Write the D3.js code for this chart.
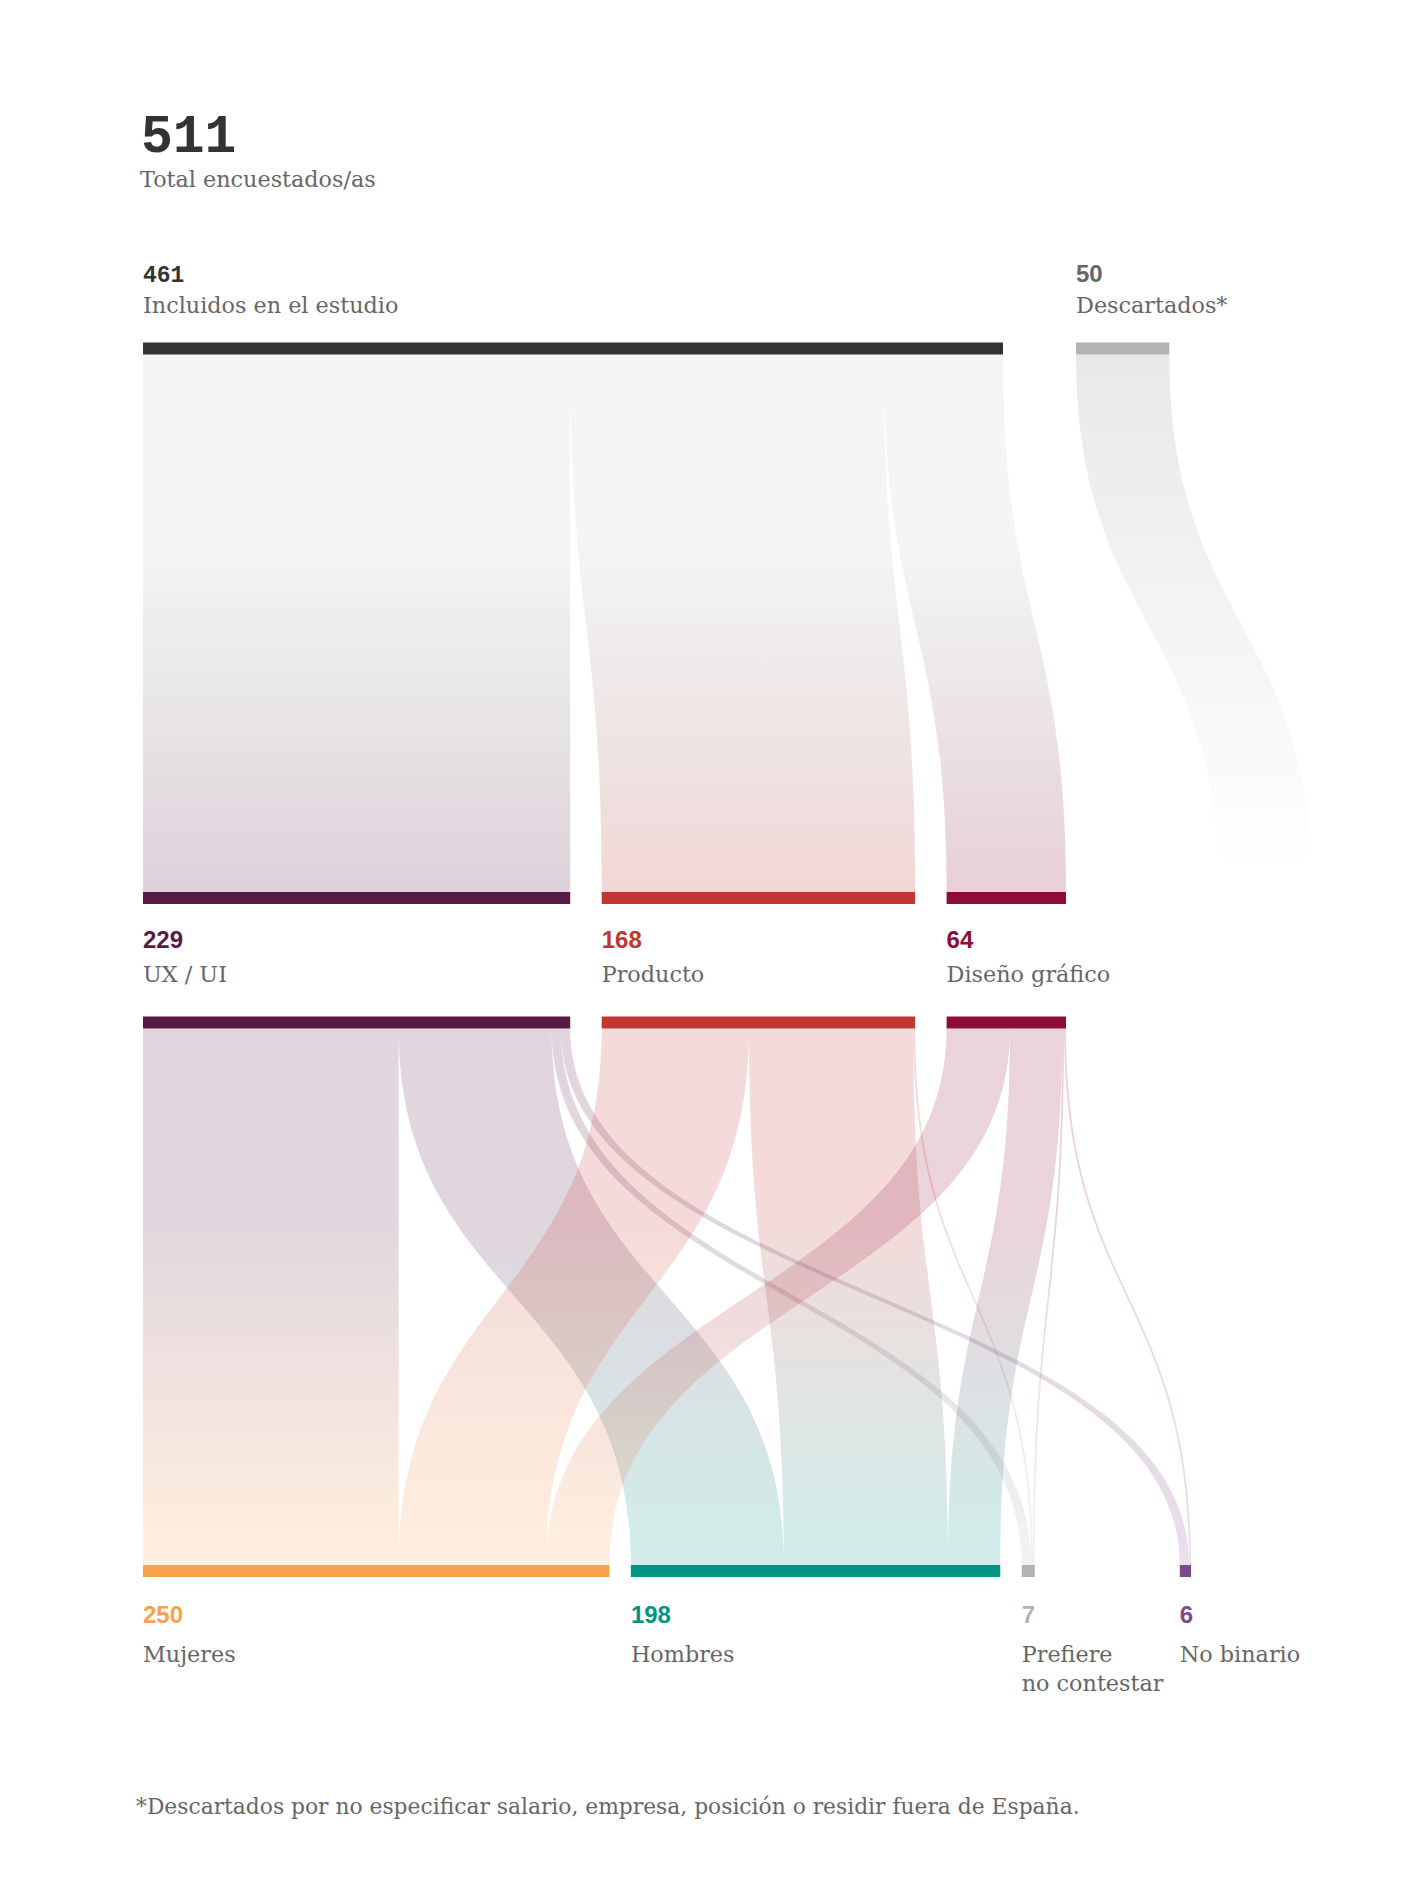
<!DOCTYPE html>
<html>
<head>
<meta charset="utf-8">
<script src="https://cdn.jsdelivr.net/npm/d3@7"></script>
<style>
  body { margin: 0; background: #fff; }
</style>
</head>
<body>
<div id="chart"></div>
<script>
// datos
var totalEncuestados = 511;
var totalLabel = "Total encuestados/as";

var estados = ["Incluidos en el estudio", "Descartados*"];
var estadosValores = [461, 50];

var puestos = ["UX / UI", "Producto", "Diseño gráfico"];
var puestosValores = [229, 168, 64];

var generos = [["Mujeres"], ["Hombres"], ["Prefiere", "no contestar"], ["No binario"]];
var generosValores = [250, 198, 7, 6];

// filas: puestos, columnas: generos
var puestoGenero = [
  [137, 82, 5, 5],
  [79, 88, 1, 0],
  [34, 28, 1, 1]
];

var nota = "*Descartados por no especificar salario, empresa, posición o residir fuera de España.";

// estilos
var colEstados = ["#333333", "#b3b3b3"];
var colEstadosTexto = ["#333333", "#666666"];
var colPuestos = ["#561a44", "#c23531", "#8e0c3a"];
var colGeneros = ["#f9a04a", "#009485", "#b3b3b3", "#7b4a8a"];

var width = 1401, height = 1901;
var left = 143;
var barH = 12;
var tint = 0.18;

// y de cada nivel
var yNivel0 = 342.5, yNivel1a = 892, yNivel1b = 1016.5, yNivel2 = 1565;

var k = d3.scaleLinear().domain([0, 461]).range([0, 860]);

function layoutNodes(values, gaps) {
  var x = left;
  return values.map(function(v, i) {
    var n = {x0: x, x1: x + k(v), value: v};
    x = n.x1 + (gaps[i] || 0);
    return n;
  });
}

var nodos0 = layoutNodes(estadosValores, [73]);
var nodos1 = layoutNodes(puestosValores, [31.5, 31.5]);
var nodos2 = layoutNodes(generosValores, [21.5, 21.5, 145]);

function bandPath(sx0, sx1, tx0, tx1, y0, y1) {
  var ym = (y0 + y1) / 2;
  return "M" + sx0 + "," + y0 +
    "C" + sx0 + "," + ym + " " + tx0 + "," + ym + " " + tx0 + "," + y1 +
    "L" + tx1 + "," + y1 +
    "C" + tx1 + "," + ym + " " + sx1 + "," + ym + " " + sx1 + "," + y0 + "Z";
}

var svg = d3.select("#chart").append("svg")
  .attr("width", width)
  .attr("height", height)
  .style("background", "#fff");

var defs = svg.append("defs");
var gradId = 0;
function gradient(stops, y0, y1) {
  var id = "g" + (gradId++);
  var g = defs.append("linearGradient")
    .attr("id", id)
    .attr("gradientUnits", "userSpaceOnUse")
    .attr("x1", 0).attr("x2", 0)
    .attr("y1", y0).attr("y2", y1);
  stops.forEach(function(s) {
    g.append("stop")
      .attr("offset", s[0])
      .attr("stop-color", s[1])
      .attr("stop-opacity", s[2]);
  });
  return "url(#" + id + ")";
}

// ---- primer sankey: incluidos -> puestos
var gLinks1 = svg.append("g");
var y0 = yNivel0 + barH, y1 = yNivel1a;
var sx = nodos0[0].x0;
nodos1.forEach(function(n, i) {
  var w = k(puestosValores[i]);
  gLinks1.append("path")
    .attr("d", bandPath(sx, sx + w, n.x0, n.x1, y0, y1))
    .attr("fill", gradient([[0, colEstados[0], 0.05], [0.35, colEstados[0], 0.05], [1, colPuestos[i], 0.2]], y0, y1));
  sx += w;
});

// descartados: se desvanece
var d = nodos0[1];
var ghostX = nodos1[2].x1 + 153;
gLinks1.append("path")
  .attr("d", bandPath(d.x0, d.x1, ghostX, ghostX + k(estadosValores[1]), y0, y1))
  .attr("fill", gradient([[0, colEstados[1], 0.3], [0.97, colEstados[1], 0]], y0, y1));

// ---- segundo sankey: puestos -> generos
var gLinks2 = svg.append("g");
var ya = yNivel1b + barH, yb = yNivel2;
var srcOff = nodos1.map(function(n) { return n.x0; });
var tgtOff = nodos2.map(function(n) { return n.x0; });
puestoGenero.forEach(function(fila, i) {
  fila.forEach(function(v, j) {
    if (v <= 0) return;
    var w = k(v);
    var sx0 = srcOff[i], tx0 = tgtOff[j];
    srcOff[i] += w;
    tgtOff[j] += w;
    gLinks2.append("path")
      .attr("d", bandPath(sx0, sx0 + w, tx0, tx0 + w, ya, yb))
      .attr("fill", gradient([[0, colPuestos[i], tint], [0.35, colPuestos[i], tint], [0.95, colGeneros[j], tint]], ya, yb));
  });
});

// ---- barras
function barras(nodos, y, cols) {
  svg.append("g").selectAll("rect")
    .data(nodos)
    .enter().append("rect")
    .attr("x", function(n) { return n.x0; })
    .attr("y", y)
    .attr("width", function(n) { return n.x1 - n.x0; })
    .attr("height", barH)
    .attr("fill", function(n, i) { return cols[i]; });
}
barras(nodos0, yNivel0, colEstados);
barras(nodos1, yNivel1a, colPuestos);
barras(nodos1, yNivel1b, colPuestos);
barras(nodos2, yNivel2, colGeneros);

// ---- textos
var serif = "'DejaVu Serif', 'Liberation Serif', serif";
var mono = "'Liberation Mono', 'DejaVu Sans Mono', monospace";
var sans = "'Liberation Sans', Arial, sans-serif";
var serifSize = 22.3;
var numSize = 24;

svg.append("text")
  .attr("x", 141).attr("y", 152)
  .attr("font-family", mono).attr("font-weight", "bold").attr("font-size", 53)
  .attr("fill", "#333")
  .text(totalEncuestados);

svg.append("text")
  .attr("x", 140).attr("y", 187)
  .attr("font-family", serif).attr("font-size", serifSize)
  .attr("fill", "#666")
  .text(totalLabel);

// nivel 0
nodos0.forEach(function(n, i) {
  svg.append("text")
    .attr("x", n.x0).attr("y", 281.5)
    .attr("font-family", i === 0 ? mono : sans).attr("font-weight", "bold").attr("font-size", i === 0 ? 23 : numSize)
    .attr("fill", colEstadosTexto[i])
    .text(estadosValores[i]);
  svg.append("text")
    .attr("x", n.x0).attr("y", 313)
    .attr("font-family", serif).attr("font-size", serifSize)
    .attr("fill", "#666")
    .text(estados[i]);
});

// nivel 1
nodos1.forEach(function(n, i) {
  svg.append("text")
    .attr("x", n.x0).attr("y", 948)
    .attr("font-family", sans).attr("font-weight", "bold").attr("font-size", numSize)
    .attr("fill", colPuestos[i])
    .text(puestosValores[i]);
  svg.append("text")
    .attr("x", n.x0).attr("y", 982)
    .attr("font-family", serif).attr("font-size", serifSize)
    .attr("fill", "#666")
    .text(puestos[i]);
});

// nivel 2
nodos2.forEach(function(n, i) {
  svg.append("text")
    .attr("x", n.x0).attr("y", 1623)
    .attr("font-family", sans).attr("font-weight", "bold").attr("font-size", numSize)
    .attr("fill", colGeneros[i])
    .text(generosValores[i]);
  var t = svg.append("text")
    .attr("x", n.x0).attr("y", 1662)
    .attr("font-family", serif).attr("font-size", serifSize)
    .attr("fill", "#666");
  generos[i].forEach(function(linea, li) {
    t.append("tspan").attr("x", n.x0).attr("dy", li === 0 ? 0 : 28.5).text(linea);
  });
});

svg.append("text")
  .attr("x", 136).attr("y", 1814)
  .attr("font-family", serif).attr("font-size", 21.8)
  .attr("fill", "#666")
  .text(nota);
</script>
</body>
</html>
